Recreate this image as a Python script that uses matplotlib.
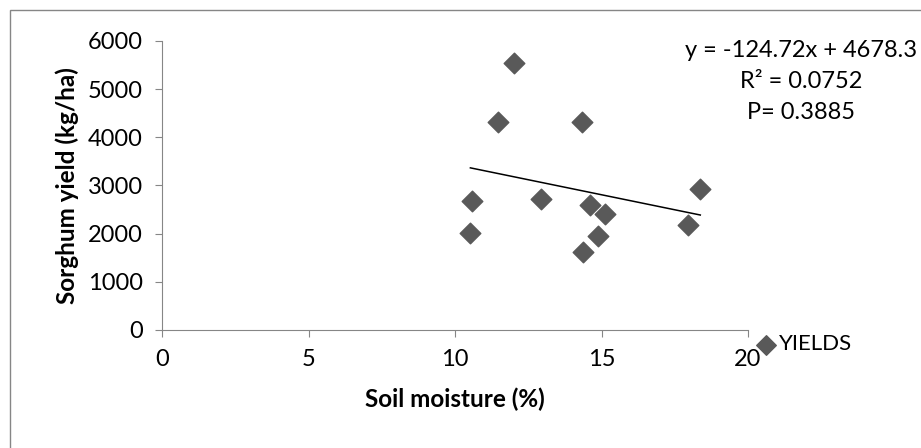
import numpy as np
import matplotlib.pyplot as plt
from matplotlib.patches import Rectangle

plt.rcParams['font.family'] = ['Lato', 'DejaVu Sans']

# Data
moisture = [12.0, 11.46, 14.32, 10.57, 10.52, 12.93, 14.62, 15.10, 14.88, 14.38, 17.96, 18.37]
yields = [5545, 4315, 4315, 2676, 2006, 2718, 2600, 2413, 1957, 1612, 2185, 2925]
slope, intercept = -124.72, 4678.3
eq_text = "y = -124.72x + 4678.3\nR\u00b2 = 0.0752\nP= 0.3885"

fig = plt.figure(figsize=(9.21, 4.48), dpi=100)
fig.patches.append(Rectangle((10 / 921, -0.1), 1.2, (438 / 448) + 0.1, transform=fig.transFigure,
                             fill=False, edgecolor='#868686', linewidth=1.0))

ax = fig.add_axes([0.1762, 0.2634, 0.636, 0.6451])
grey = '#868686'
ax.scatter(moisture, yields, marker='D', s=110, color='#595959', zorder=3, label='YIELDS')

# linear trendline over the data range
xs = np.array([min(moisture), max(moisture)])
ax.plot(xs, slope * xs + intercept, color='black', linewidth=1.1)

ax.set_xlim(0, 20)
ax.set_ylim(0, 6000)
ax.set_xticks([0, 5, 10, 15, 20])
ax.set_yticks(range(0, 6001, 1000))
for s in ['top', 'right']:
    ax.spines[s].set_visible(False)
for s in ['left', 'bottom']:
    ax.spines[s].set_color(grey)
ax.tick_params(direction='out', length=5, color=grey, labelsize=17, labelcolor='black', pad=9)

ax.set_xlabel('Soil moisture (%)', fontsize=17.5, fontweight='bold', labelpad=12)
ax.set_ylabel('Sorghum yield (kg/ha)', fontsize=17.5, fontweight='bold', labelpad=6)

fig.text(801 / 921, 1 - 40 / 448, eq_text, ha='center', va='top', fontsize=17,
         multialignment='center', linespacing=1.6)

ax.legend(loc='center left', bbox_to_anchor=(0.978, -0.05), frameon=False, fontsize=16,
          handletextpad=0.05, handlelength=1.0, markerscale=0.95)

fig.savefig('out.png', dpi=100)
